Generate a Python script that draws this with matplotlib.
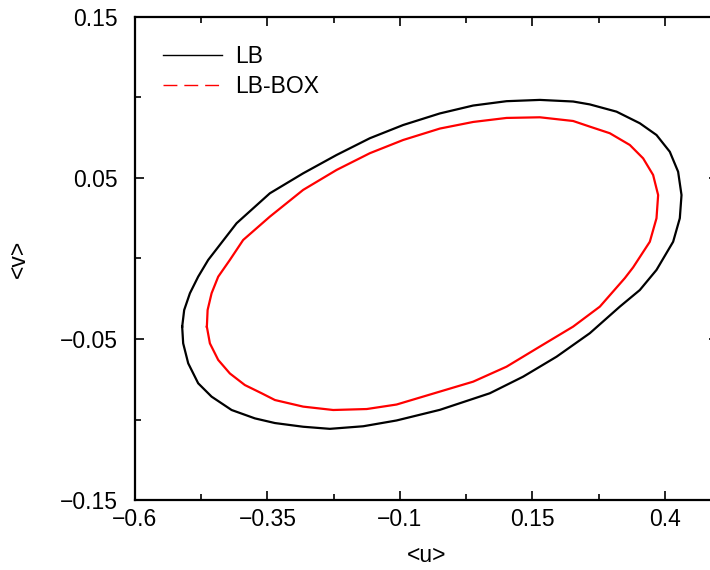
import numpy as np
import matplotlib
matplotlib.use("Agg")
import matplotlib.pyplot as plt
from matplotlib.lines import Line2D

plt.rcParams["font.family"] = ["Liberation Sans", "DejaVu Sans"]

# outer curve (LB)
lb_u = [-0.5108, -0.5070, -0.4962, -0.4806, -0.4617, -0.4081, -0.3453, -0.2825,
        -0.2194, -0.1566, -0.0938, -0.0245, 0.0383, 0.1013, 0.1642, 0.2270,
        0.2585, 0.3089, 0.3528, 0.3843, 0.4094, 0.4251, 0.4315, 0.4283,
        0.4157, 0.3843, 0.3528, 0.3151, 0.2585, 0.1957, 0.1326, 0.0698,
        -0.0245, -0.1062, -0.1692, -0.2321, -0.2825, -0.3358, -0.3736, -0.4175,
        -0.4553, -0.4806, -0.4994, -0.5089]
lb_v = [-0.0424, -0.0320, -0.0216, -0.0113, -0.0009, 0.0219, 0.0405, 0.0529,
        0.0643, 0.0747, 0.0829, 0.0901, 0.0950, 0.0977, 0.0985, 0.0975,
        0.0957, 0.0912, 0.0840, 0.0767, 0.0663, 0.0539, 0.0394, 0.0250,
        0.0104, -0.0071, -0.0196, -0.0299, -0.0464, -0.0610, -0.0734, -0.0837,
        -0.0940, -0.1006, -0.1042, -0.1058, -0.1045, -0.1022, -0.0993, -0.0941,
        -0.0858, -0.0775, -0.0651, -0.0527]

# inner curve (LB-BOX)
box_u = [-0.4642, -0.4628, -0.4553, -0.4428, -0.4208, -0.3957, -0.3453, -0.2825,
         -0.2194, -0.1566, -0.0938, -0.0245, 0.0383, 0.1013, 0.1642, 0.2270,
         0.2585, 0.2962, 0.3340, 0.3591, 0.3779, 0.3874, 0.3843, 0.3717,
         0.3402, 0.3245, 0.2774, 0.2270, 0.1642, 0.1013, 0.0383, -0.0340,
         -0.1062, -0.1625, -0.2258, -0.2825, -0.3358, -0.3609, -0.3925, -0.4208,
         -0.4428, -0.4585]
box_v = [-0.0424, -0.0320, -0.0216, -0.0113, -0.0009, 0.0115, 0.0260, 0.0426,
         0.0550, 0.0654, 0.0736, 0.0807, 0.0848, 0.0873, 0.0877, 0.0854,
         0.0819, 0.0778, 0.0705, 0.0622, 0.0519, 0.0394, 0.0250, 0.0104,
         -0.0055, -0.0122, -0.0299, -0.0423, -0.0547, -0.0672, -0.0765, -0.0836,
         -0.0907, -0.0935, -0.0941, -0.0920, -0.0879, -0.0837, -0.0786, -0.0714,
         -0.0630, -0.0527]

x_ticks = [-0.6, -0.35, -0.1, 0.15, 0.4]
y_ticks = [-0.15, -0.05, 0.05, 0.15]

fig = plt.figure(figsize=(7.1, 5.7), dpi=100)
ax = fig.add_axes([0.190, 0.1228, 0.821, 0.8474])

ax.plot(lb_u + lb_u[:1], lb_v + lb_v[:1], color="black", lw=1.6,
        solid_joinstyle="round")
ax.plot(box_u + box_u[:1], box_v + box_v[:1], color="red", lw=1.6,
        solid_joinstyle="round")

ax.set_xlim(-0.6, 0.5)
ax.set_ylim(-0.15, 0.15)
ax.set_xticks(x_ticks)
ax.set_xticklabels(["\u22120.6", "\u22120.35", "\u22120.1", "0.15", "0.4"])
ax.set_yticks(y_ticks)
ax.set_yticklabels(["\u22120.15", "\u22120.05", "0.05", "0.15"])
ax.set_xticks(np.arange(-0.475, 0.5, 0.25), minor=True)
ax.set_yticks([-0.1, 0.0, 0.1], minor=True)

ax.tick_params(which="both", direction="in", top=True, right=True,
               labelsize=16.5, width=1.2)
ax.tick_params(which="major", length=6.5)
ax.tick_params(which="minor", length=4.3)
ax.tick_params(axis="x", pad=6)
ax.tick_params(axis="y", pad=12)
for s in ax.spines.values():
    s.set_linewidth(1.6)

ax.set_xlabel("<u>", fontsize=16.5, labelpad=9)
ax.set_ylabel("<v>", fontsize=16.5, labelpad=22)

handles = [Line2D([], [], color="black", lw=1.0),
           Line2D([], [], color="red", lw=1.0, dashes=(10, 5))]
ax.legend(handles, ["LB", "LB-BOX"], loc="upper left",
          bbox_to_anchor=(0.02, 0.975), frameon=False, fontsize=16.5,
          handlelength=2.6, handletextpad=0.55, labelspacing=0.3,
          borderpad=0.2)

fig.savefig("out.png", dpi=100)
